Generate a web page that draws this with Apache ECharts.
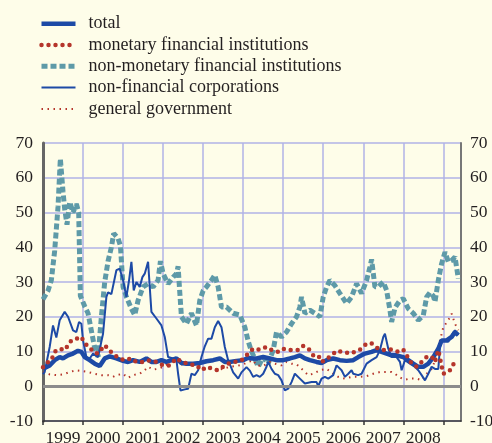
<!DOCTYPE html>
<html>
<head>
<meta charset="utf-8">
<script src="https://cdn.jsdelivr.net/npm/echarts@6/dist/echarts.min.js"></script>
<style>
  html, body { margin: 0; padding: 0; background: #fefde9; }
  #chart { width: 492px; height: 443px; }
</style>
</head>
<body>
<div id="chart"></div>
<script>
// x = months since Jan 1999, y = annual growth rate (%)
var yearLabels = ['1999', '2000', '2001', '2002', '2003', '2004', '2005', '2006', '2007', '2008'];
var seriesNames = ['total', 'monetary financial institutions', 'non-monetary financial institutions',
    'non-financial corporations', 'general government'];

var total = [[0,5],[2,6],[3.5,7.5],[5,8.4],[6,8],[7.5,8.9],[9,9.4],[10.5,10.2],[11.5,9.9],[12.5,8.4],
    [14,7.5],[15.5,6.5],[17,5.8],[18.5,8],[20,8.6],[22,8],[24,7.3],[25.5,7],[27,7.5],[29,7],[31,8],
    [32.5,7],[34,7],[35.5,7.5],[37,7],[38.5,7.5],[40,8],[41.5,6.7],[43,6.5],[45,6.5],[47,6.7],[49,7.2],
    [51,7.5],[53,8],[54.5,7],[56,7],[58,7.3],[60,7.5],[61.5,8.2],[62.5,8],[64,8],[66,8.4],[68,8],
    [70,7.5],[72,7.5],[74,8],[75.5,8.4],[77,8.9],[78.5,8],[80,7.5],[82,7],[83.5,6.7],[85,7.5],[87,8],
    [89,7.5],[91,7.3],[93,7.5],[94.5,8.4],[96.5,9.4],[98.5,9.9],[100,10.4],[101.5,9.9],[103,9.4],
    [104.5,8.9],[106,8.9],[108,8.4],[109.5,7.5],[111,6.5],[112.5,5.6],[114,5.6],[115.5,6.5],[117,8.4],
    [118.5,10.8],[119.5,13.2],[121,13.2],[122.5,14.2],[123.5,15.6],[124.5,14.7]];

var mfi = [[0,5.5],[0.5,6.3],[2.5,7.5],[3.5,9.9],[5,10.8],[6.5,10.4],[8.5,13.2],[10,13.7],[11.5,14.2],
    [12.5,12.3],[14,11.3],[15,9.9],[16.5,9.4],[18.5,11.8],[20,10.2],[21.5,8.9],[23,8],[24.5,7.5],
    [26.5,8],[28,7],[30,7],[32,7.5],[34,7],[36,6],[38,6],[40,8],[41.5,7],[42,6.5],[44,6.3],[46,6],
    [47.5,4.6],[49,5.6],[51,5],[52.5,4.6],[54,5.6],[55.5,6.5],[57.5,7],[59.5,7.5],[61.5,9.4],[63,10.8],
    [65,10.5],[67,11.3],[69,10.2],[70.5,9.9],[72,10.8],[73,10.4],[74.5,10.4],[76.5,10.4],[78,11.6],
    [80,10.4],[81,8.9],[82.5,8.9],[83.5,7],[84.5,7.5],[86.5,8.9],[88,10.2],[90,9.9],[92,9.4],[93.5,9.9],
    [95.5,10.8],[97,12.3],[98.5,12.3],[100.5,10.8],[102.5,10.4],[104.5,10.6],[106.5,9.9],[108,10.5],
    [109,8.9],[110.5,6.5],[112,5.6],[113.5,7],[115,8.4],[116.5,8.6],[117.5,7],[118.5,10.4],[120,3.6],
    [121.8,4.3],[123,6.3],[124,7.5]];

var nmfi = [[0,25],[1.5,27.5],[2.5,30.5],[3.5,39],[4.5,51.6],[5.2,65.5],[6,56],[6.5,51],[7.2,46.5],
    [8,53],[9,50],[10,52.5],[10.7,50],[11.2,26],[12.5,23],[13.5,21],[14.5,16],[15.5,11],[16.5,8.5],
    [17.5,20],[18.5,30],[19.5,36],[20.5,40],[21.2,44],[22.5,42.5],[23.2,40.5],[24,28.6],[25,25.7],
    [26.5,22.3],[27.5,20.5],[28.5,24.7],[30,28.6],[31.5,29.5],[33,28.6],[34.5,30.5],[35.2,36],[36,32.4],
    [37.5,29.5],[39,31.4],[40,32.4],[40.5,34.5],[41,27],[41.5,20],[43,18],[44.5,21],[46,17.5],[47,24.7],
    [48,27.5],[49,28.6],[50.5,30.5],[51.5,32],[52.5,28.6],[53.5,22.8],[55,22.8],[57,21],[59,20.5],
    [60.5,17],[61.5,13],[62.5,10],[63.5,8],[64.5,5.6],[66,8.4],[67.5,6.5],[69,10.4],[70,15.6],
    [71.5,14.2],[73,15.6],[74.5,18],[76,20],[77,22.8],[77.5,25.7],[78.5,21],[80,21.9],[81.5,21],[83,20],
    [84,25.7],[85,28.5],[86,30.5],[87.5,29],[89,26.7],[91,23.8],[92.5,25.7],[94,29.5],[95.5,26.7],
    [97,30.5],[98,34.3],[98.5,36.5],[99.5,28.6],[100.5,28.6],[102,30],[103,27.6],[104,21.9],[104.5,18.5],
    [105.5,22.5],[106,23.3],[107,24.7],[108,25.2],[109.5,22.3],[111,21],[112.5,19],[114,20.4],[115,25.7],
    [116,27],[117,26],[117.5,24.3],[118.5,30.5],[119.5,35.3],[120.5,38.6],[121.5,35.8],[122.5,36.2],
    [123.5,37.2],[124.5,31]];

var nfc = [[0,3.5],[0.5,4.1],[2,11.3],[3,17.5],[4,14],[5,19],[6.5,21.4],[7.5,20],[9,16.1],[10,15.6],
    [10.8,18.5],[11.5,18],[12,13.2],[13,8.4],[14,8],[15,9.4],[16.5,8.4],[18,15.1],[19,25.7],[19.5,27],
    [20.5,26.5],[21,27],[22,33.4],[23,33.8],[24,30.5],[25,25.7],[25.8,30.5],[26.5,35.8],[27.2,27.6],
    [28,30],[29,28.6],[29.8,31.4],[30.5,32.4],[31.5,35.8],[32.5,21.4],[34,19.5],[35.5,17.5],[36.5,14.2],
    [37.5,8.4],[39,8],[40,7.5],[40.5,3.6],[41.2,-1.2],[42.5,-0.9],[43.5,-0.7],[44.5,3.6],[45.5,3.2],
    [46.5,4.6],[47.5,8.4],[48.5,11.5],[49.5,13.7],[50.5,13.7],[51.5,17],[52.5,18.8],[53.5,17],
    [54.5,11.3],[55.5,7.5],[57,4],[58.5,2.2],[59.5,4],[61,5.5],[62,4.5],[63,2.7],[64,3.2],[65,2.7],
    [66,3.6],[67,5.6],[67.5,7],[68.5,5],[69.5,3.6],[70.5,3.2],[71.5,1.7],[72.5,-1.2],[73.5,-0.7],
    [74.5,1.2],[75.5,3.6],[77,2.2],[78.5,0.8],[80.5,1.2],[82,1.2],[82.5,0],[83.5,2.2],[84.5,2.7],
    [85.5,2.2],[87,3.2],[88,6],[88.5,6.5],[89.5,4.6],[90.5,2.7],[91.5,3.6],[92.5,4.6],[93,3.6],
    [94.5,3.2],[95.5,3.6],[97,6.5],[98.5,7.5],[100,8.4],[101,10.4],[102,14.2],[102.5,15.1],[103.5,10.8],
    [104.5,8.4],[106,8.4],[107,7],[107.5,4.6],[108.5,7.5],[110,6.5],[111.5,5.6],[112.5,4.6],[113.5,3.2],
    [114.5,1.7],[115.5,3.6],[116.5,5.6],[117.5,5],[118.5,5],[119,11.3],[119.5,13.2],[120.5,13.2],
    [121.5,12.8],[122.5,14.7],[123.5,16.1],[124.5,14.7]];

var gg = [[0,4.1],[2,3.4],[4,3.2],[6,3.4],[8,4.1],[10,4.6],[11.5,4.4],[13.5,4.1],[15.5,3.6],[17.5,3.2],
    [19.5,3.2],[21,2.7],[22,3.2],[24,3.6],[25.5,2.4],[27,3.2],[29,3.6],[30.5,4.6],[31.5,5.6],[33,4.8],
    [34.5,5],[36,5.6],[37.5,6.5],[39,7.5],[40.5,7],[42,6],[44,6.3],[46.5,5.6],[48.5,5],[50.5,5.6],
    [52,4.6],[54,5],[56,5.6],[58,5.8],[60,6.3],[61.5,7],[63,7.5],[64,6],[66,5.8],[68,7],[69.5,6.5],
    [71.5,6],[73,7],[74.5,6.5],[76,6.3],[78,4.6],[79.5,3.2],[81,3.6],[83,4.6],[85,5],[87,3.6],[88.5,2.7],
    [90.5,2.2],[92.5,2.7],[94.5,2.7],[97,2.9],[99,3.6],[101,4.1],[103,4.1],[104.5,4.1],[105.5,3.6],
    [107,2.5],[108.5,1.9],[110,2.2],[112,2.2],[113.5,1.7],[115,3.6],[116.5,5],[118,8.4],[119,13.2],
    [120,17],[121.5,19],[122.5,20.9],[123.5,18],[124.5,16.1]];

var yearTicks = [0, 12, 24, 36, 48, 60, 72, 84, 96, 108, 120];
var yearMids = [6, 18, 30, 42, 54, 66, 78, 90, 102, 114];

var blue = '#1d4aa6', red = '#b5352b', teal = '#5e9aa8';
var font = 'Liberation Serif';

// line styles shared by the series and their legend icons
var styles = {
    'total': { color: blue, width: 4.5, type: 'solid' },
    'monetary financial institutions': { color: red, width: 4.5, type: [0, 7], cap: 'round' },
    'non-monetary financial institutions': { color: teal, width: 5, type: [6, 3] },
    'non-financial corporations': { color: blue, width: 2, type: 'solid' },
    'general government': { color: red, width: 2, type: [1.5, 4.5] }
};

function lineSeries(name, data, extra) {
    var s = {
        name: name,
        type: 'line',
        data: data,
        symbol: 'none',
        color: styles[name].color,
        lineStyle: styles[name]
    };
    return Object.assign(s, extra || {});
}

var chart = echarts.init(document.getElementById('chart'));
chart.setOption({
    animation: false,
    backgroundColor: '#fefde9',
    textStyle: { fontFamily: font, color: '#231f20' },
    legend: {
        orient: 'vertical',
        left: 39,
        top: 14.7,
        padding: 0,
        itemWidth: 34,
        itemHeight: 16,
        itemGap: 3.3,
        data: seriesNames.map(function (n) { return { name: n, lineStyle: styles[n] }; }),
        itemStyle: { opacity: 0 },
        textStyle: { fontFamily: font, fontSize: 18, color: '#231f20', padding: [0, 0, 0, 8] }
    },
    grid: { left: 43, right: 31, top: 143, bottom: 22, outerBoundsMode: 'none' },
    xAxis: {
        type: 'value',
        min: 0,
        max: 125.3,
        interval: 12,
        axisLine: { show: true, onZero: false, lineStyle: { color: '#333', width: 1.5 } },
        axisTick: { show: true, customValues: yearTicks, length: 4, lineStyle: { color: '#333', width: 1.5 } },
        axisLabel: {
            customValues: yearMids,
            margin: 8,
            fontSize: 17.5,
            fontFamily: font,
            color: '#231f20',
            formatter: function (v) { return yearLabels[Math.round((v - 6) / 12)]; }
        },
        splitLine: { show: true, lineStyle: { color: '#b1b2e6', width: 1.5 } }
    },
    yAxis: [{
        type: 'value',
        min: -10,
        max: 70,
        interval: 10,
        axisLine: { show: true, lineStyle: { color: '#666', width: 3 } },
        axisTick: { show: false },
        axisLabel: { margin: 10, fontSize: 17.5, fontFamily: font, color: '#231f20' },
        splitLine: { show: true, lineStyle: { color: '#b1b2e6', width: 1.5 } }
    }, {
        type: 'value',
        position: 'right',
        min: -10,
        max: 70,
        interval: 10,
        axisLine: { show: true, lineStyle: { color: '#777', width: 2 } },
        axisTick: { show: false },
        axisLabel: { margin: 9, fontSize: 17.5, fontFamily: font, color: '#231f20' },
        splitLine: { show: false }
    }],
    series: [
        lineSeries(seriesNames[2], nmfi, {
            markLine: {
                silent: true,
                symbol: 'none',
                label: { show: false },
                lineStyle: { color: '#8c8c8c', width: 3, type: 'solid' },
                data: [{ yAxis: 0 }]
            }
        }),
        lineSeries(seriesNames[4], gg),
        lineSeries(seriesNames[3], nfc),
        lineSeries(seriesNames[0], total),
        lineSeries(seriesNames[1], mfi)
    ]
});
</script>
</body>
</html>
